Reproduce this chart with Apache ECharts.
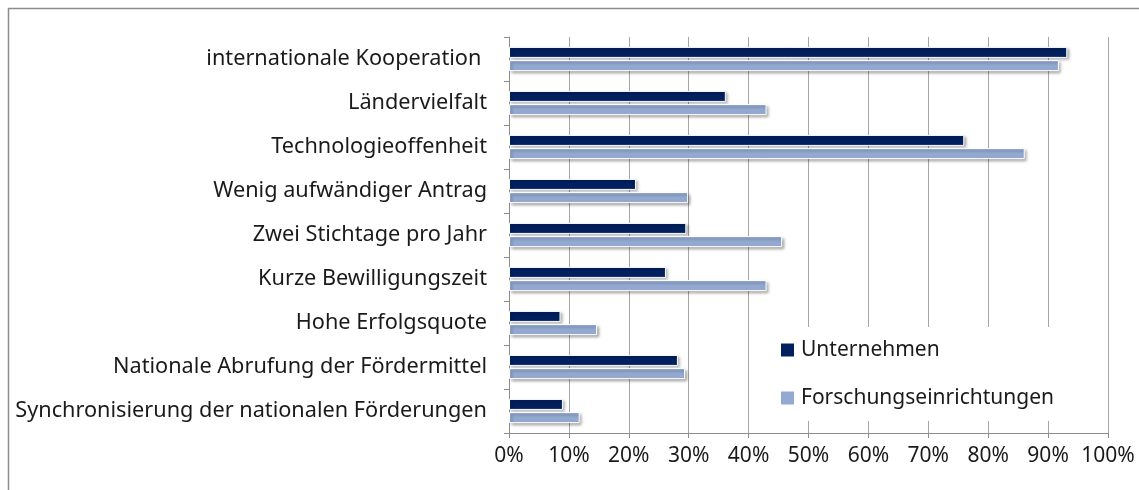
<!DOCTYPE html>
<html lang="de">
<head>
    <meta charset="UTF-8">
    <title>Bewertung</title>
    <script src="https://cdn.jsdelivr.net/npm/echarts@6.0.0/dist/echarts.min.js"></script>
    <style>
        body { margin: 0; background: #fff; }
    </style>
</head>
<body>
<div id="chart" style="width: 1139px;height:490px;"></div>
</body>
<script>
    // categories, top to bottom
    var categories = [
        'internationale Kooperation ',
        'Ländervielfalt',
        'Technologieoffenheit',
        'Wenig aufwändiger Antrag',
        'Zwei Stichtage pro Jahr',
        'Kurze Bewilligungszeit',
        'Hohe Erfolgsquote',
        'Nationale Abrufung der Fördermittel',
        'Synchronisierung der nationalen Förderungen'
    ];
    var unternehmen = [93.2, 36.2, 76.0, 21.2, 29.6, 26.2, 8.6, 28.2, 9.0];
    var forschung = [91.8, 43.0, 86.1, 29.9, 45.6, 43.0, 14.7, 29.4, 11.8];
    var seriesNames = ['Unternehmen', 'Forschungseinrichtungen'];

    var font = 'Noto Sans';
    var barStyle = function (color) {
        return {
            color: color,
            borderColor: '#ffffff',
            borderWidth: 1,
            shadowColor: 'rgba(0, 0, 0, 0.35)',
            shadowBlur: 3,
            shadowOffsetX: 2,
            shadowOffsetY: 2
        };
    };

    echarts.init(document.getElementById('chart')).setOption({
        animation: false,
        textStyle: { fontFamily: font },
        graphic: [
            {
                type: 'rect',
                shape: { x: 8.5, y: 8.5, width: 1300, height: 600 },
                style: { fill: 'none', stroke: '#8c8c8c', lineWidth: 1.5 },
                z: 100
            }
        ],
        legend: {
            data: seriesNames,
            orient: 'vertical',
            left: 771,
            top: 327,
            padding: [12, 10, 12, 10],
            itemGap: 26,
            itemWidth: 13,
            itemHeight: 13,
            icon: 'rect',
            backgroundColor: '#ffffff',
            z: 10,
            itemStyle: { borderWidth: 0, shadowBlur: 0, shadowOffsetX: 0, shadowOffsetY: 0 },
            textStyle: { fontSize: 21, lineHeight: 22, color: '#1a1a1a', fontFamily: font, padding: [0, 0, 0, 2] }
        },
        grid: {
            left: 509,
            right: 31,
            top: 37,
            bottom: 57,
            containLabel: false
        },
        xAxis: {
            type: 'value',
            min: 0,
            max: 100,
            interval: 10,
            axisLabel: {
                formatter: '{value}%',
                fontSize: 21,
                color: '#1a1a1a',
                margin: 13
            },
            axisLine: { show: true, lineStyle: { color: '#8c8c8c' } },
            axisTick: { show: true, length: 5, lineStyle: { color: '#8c8c8c' } },
            splitLine: { show: true, lineStyle: { color: '#a6a6a6' } }
        },
        yAxis: {
            type: 'category',
            inverse: true,
            data: categories,
            axisLabel: {
                fontSize: 21.7,
                color: '#1a1a1a',
                margin: 22
            },
            axisLine: { show: true, lineStyle: { color: '#8c8c8c' } },
            axisTick: { show: true, length: 5, lineStyle: { color: '#8c8c8c' } }
        },
        series: [
            {
                name: seriesNames[0],
                type: 'bar',
                data: unternehmen,
                barWidth: 11,
                barGap: '20%',
                itemStyle: barStyle('#00205f')
            },
            {
                name: seriesNames[1],
                type: 'bar',
                data: forschung,
                barWidth: 11,
                barGap: '20%',
                itemStyle: barStyle('#94a9d1')
            }
        ]
    });
</script>
</html>
